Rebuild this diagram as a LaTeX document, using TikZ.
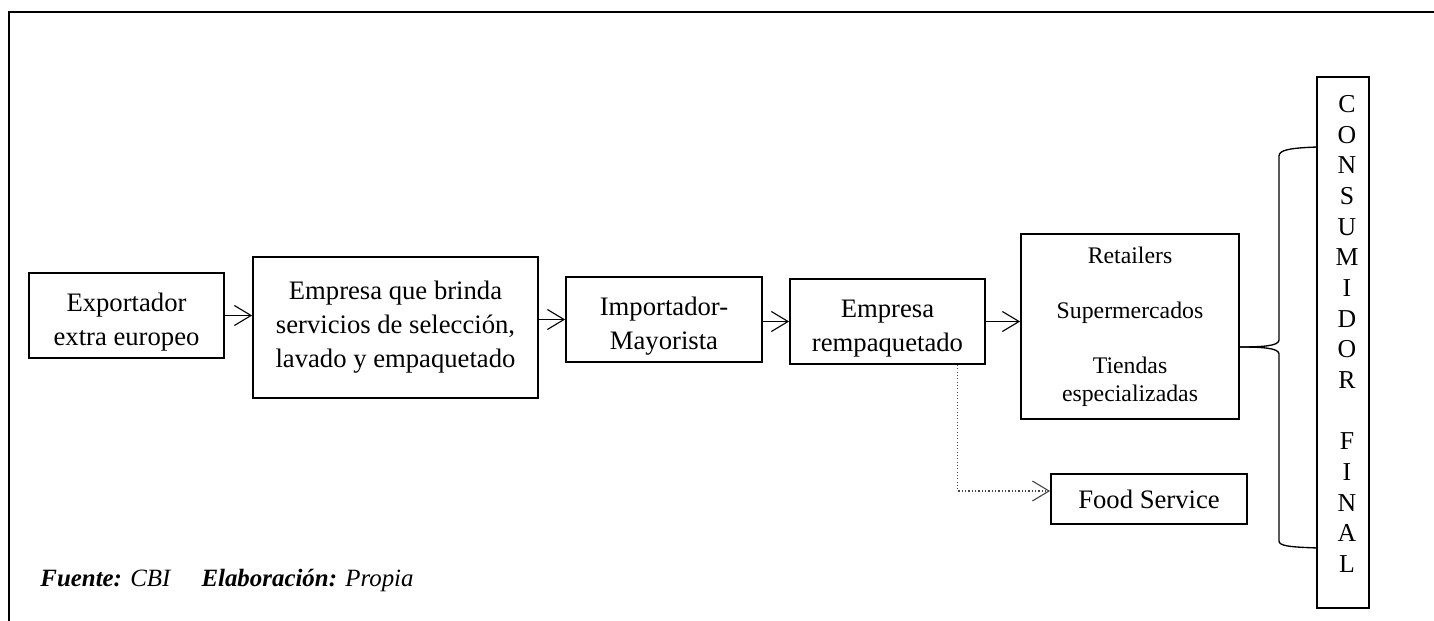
\documentclass[tikz,border=0pt]{standalone}
\usepackage{fontspec}
\setmainfont{Liberation Serif}
\usepackage{tikz}
\usetikzlibrary{arrows.meta, positioning, calc}
\definecolor{mydark}{RGB}{0,0,0}
\definecolor{mydots}{RGB}{70,70,70}
\newcommand{\topgap}{\rule{0pt}{14.5pt}}
\tikzset{
  box/.style={rectangle, draw=mydark, line width=0.8pt, align=center,
    inner sep=0pt, font=\fontsize{12}{15.3}\selectfont},
  arrow/.style={-{Straight Barb[length=7.5pt, width=9pt]}, line width=0.5pt, color=mydark},
  dotarrow/.style={arrow, densely dotted, color=mydots},
  line/.style={line width=0.6pt, color=mydark}
}

\begin{document}
\begin{tikzpicture}[x=0.45pt, y=-0.45pt]
  \useasboundingbox (0,0) rectangle (1434,621);
  % Frame
  \draw[line width=0.8pt] (9,621) -- (9,12) -- (1434,12);

  % Nodes
  \node[box, minimum width=87.75pt, minimum height=38.25pt] (export) at (126.5,315.5) {\topgap Exportador\\extra europeo};

  \node[box, minimum width=128.25pt, minimum height=63.45pt] (servicio) at (395.5,327.5) {Empresa que brinda\\servicios de selección,\\lavado y empaquetado};

  \node[box, minimum width=88.2pt, minimum height=38.25pt] (importador) at (664,319.5) {\topgap Importador-\\Mayorista};

  \node[box, minimum width=87.75pt, minimum height=38.25pt] (rempaque) at (887.5,321.5) {\topgap Empresa\\rempaquetado};

  \node[box, minimum width=98.1pt, minimum height=83.25pt, font=\fontsize{10.7}{12.4}\selectfont] (minoristas) at (1130,326.5) {Retailers\\[12.4pt]Supermercados\\[12.4pt]Tiendas\\especializadas};

  \node[box, minimum width=88.2pt, minimum height=22.5pt] (food) at (1149,499) {Food Service};

  \node[box, minimum width=23.4pt, minimum height=239pt] (consumidor) at (1343,342.5) {};
  \node[align=center, inner sep=0pt, font=\fontsize{11.6}{13.8}\selectfont] (letras) at (1347,334) {C\\O\\N\\S\\U\\M\\I\\D\\O\\R\\[13.8pt]F\\I\\N\\A\\L};

  \node[anchor=base west, inner sep=0pt, font=\fontsize{11.2}{13}\selectfont\itshape] (fuente) at (40,586) {\textbf{Fuente:} CBI\hspace{14pt}\textbf{Elaboración:} Propia};

  % Connections
  \draw[arrow] (export) -- (servicio.west |- export);
  \draw[arrow] (servicio.east |- importador.west) -- (importador.west);
  \draw[arrow] (importador.east |- rempaque.west) -- (rempaque.west);
  \draw[arrow] (rempaque.east) -- (rempaque.east -| minoristas.west);
  \draw[dotarrow] ([xshift=-12.6pt]rempaque.south east) |- ([yshift=3.6pt]food.west);

  % Brace to the final consumer
  \coordinate (bracetop) at ($(consumidor.north west)+(0,71)$);
  \coordinate (bracebot) at ($(consumidor.south west)+(0,-61)$);
  \coordinate (bracetip) at ($(minoristas.east)+(0,20.5)$);
  \draw[line] (bracetop) .. controls (1290,148) and (1279,150) .. (1279,156) -- (1279,340) .. controls (1279,346) and (1262,347) .. (bracetip);
  \draw[line] (bracetip) .. controls (1262,347) and (1279,348) .. (1279,354) -- (1279,541) .. controls (1279,546) and (1290,547) .. (bracebot);
\end{tikzpicture}
\end{document}
